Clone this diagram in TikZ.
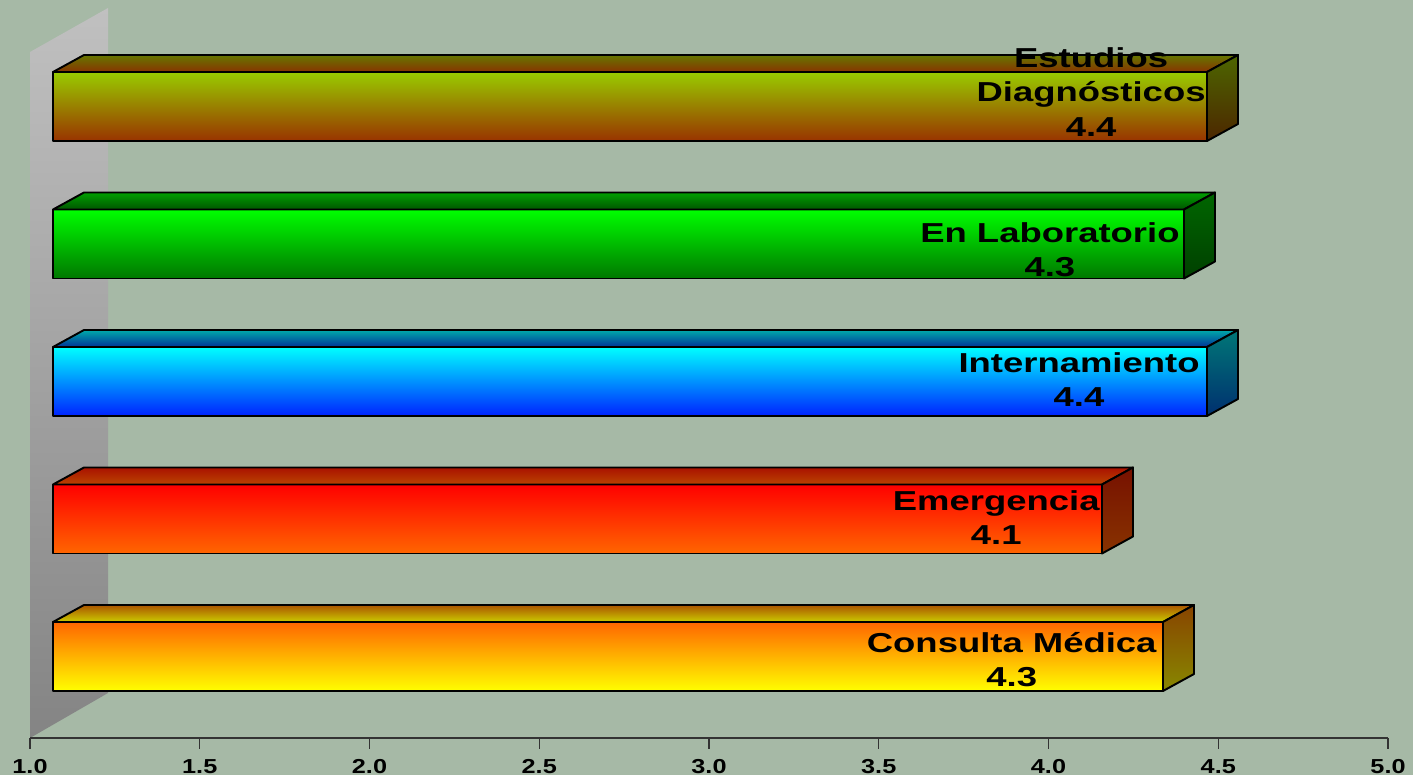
\documentclass[tikz,border=0pt]{standalone}
\usepackage{fontspec}
\setmainfont{Liberation Sans}
\usepackage{xcolor}
\usepackage{tikz}
\usetikzlibrary{calc}
\definecolor{chartbg}{RGB}{166,185,166}
\definecolor{wallTop}{RGB}{192,192,192}
\definecolor{wallBot}{RGB}{132,132,132}
% Estudios Diagnosticos
\definecolor{estFrontA}{HTML}{99CC00}
\definecolor{estFrontB}{HTML}{993300}
\definecolor{estTopA}{HTML}{667700}
\definecolor{estTopB}{HTML}{883300}
\definecolor{estSideA}{HTML}{4D6600}
\definecolor{estSideB}{HTML}{4D2600}
% En Laboratorio
\definecolor{labFrontA}{HTML}{00FF00}
\definecolor{labFrontB}{HTML}{007700}
\definecolor{labTopA}{HTML}{00A000}
\definecolor{labTopB}{HTML}{005500}
\definecolor{labSideA}{HTML}{006600}
\definecolor{labSideB}{HTML}{004000}
% Internamiento
\definecolor{intFrontA}{HTML}{00FFFF}
\definecolor{intFrontB}{HTML}{0022FF}
\definecolor{intTopA}{HTML}{00AAAA}
\definecolor{intTopB}{HTML}{003399}
\definecolor{intSideA}{HTML}{007777}
\definecolor{intSideB}{HTML}{002F6F}
% Emergencia
\definecolor{emeFrontA}{HTML}{FF0000}
\definecolor{emeFrontB}{HTML}{FF6600}
\definecolor{emeTopA}{HTML}{AA1100}
\definecolor{emeTopB}{HTML}{BB4400}
\definecolor{emeSideA}{HTML}{771100}
\definecolor{emeSideB}{HTML}{883300}
% Consulta Medica
\definecolor{conFrontA}{HTML}{FF6600}
\definecolor{conFrontB}{HTML}{FFFF00}
\definecolor{conTopA}{HTML}{AA5500}
\definecolor{conTopB}{HTML}{CCCC00}
\definecolor{conSideA}{HTML}{884400}
\definecolor{conSideB}{HTML}{888800}

\begin{document}
\begin{tikzpicture}[line join=round,x=0.02cm,y=0.02cm,
  barline/.style={line width=1.1pt,draw=black},
  axisline/.style={line width=0.6pt,draw=black!80},
  barlabel/.style={anchor=east,inner sep=0pt,align=center,xscale=1.33,
    font=\fontsize{15.6}{19.4}\selectfont\bfseries},
  ticklabel/.style={inner sep=0pt,xscale=1.25,font=\fontsize{11.5}{13}\selectfont\bfseries}]
\fill [chartbg] (0,0) rectangle (1413,775);
\useasboundingbox (0,0) rectangle (1413,775);
% back wall
\shade [top color=wallTop,bottom color=wallBot] (30,723) -- (108,767) -- (108,82) -- (30,37) -- cycle;
% axis
\draw [axisline] (30,37) -- (1388,37);
\draw [axisline] (30,37) -- (30,26);
\draw [axisline] (199.75,37) -- (199.75,26);
\draw [axisline] (369.5,37) -- (369.5,26);
\draw [axisline] (539.25,37) -- (539.25,26);
\draw [axisline] (709,37) -- (709,26);
\draw [axisline] (878.75,37) -- (878.75,26);
\draw [axisline] (1048.5,37) -- (1048.5,26);
\draw [axisline] (1218.25,37) -- (1218.25,26);
\draw [axisline] (1388,37) -- (1388,26);
\draw (30,8.5) node[ticklabel] (t10) {1.0};
\draw (199.75,8.5) node[ticklabel] (t15) {1.5};
\draw (369.5,8.5) node[ticklabel] (t20) {2.0};
\draw (539.25,8.5) node[ticklabel] (t25) {2.5};
\draw (709,8.5) node[ticklabel] (t30) {3.0};
\draw (878.75,8.5) node[ticklabel] (t35) {3.5};
\draw (1048.5,8.5) node[ticklabel] (t40) {4.0};
\draw (1218.25,8.5) node[ticklabel] (t45) {4.5};
\draw (1388,8.5) node[ticklabel] (t50) {5.0};
% Estudios Diagnosticos
\draw [barline,top color=estFrontA,bottom color=estFrontB] (53,634) rectangle (1207,703);
\draw [barline,top color=estTopA,bottom color=estTopB] (53,703) -- (84,720) -- (1238,720) -- (1207,703) -- cycle;
\draw [barline,top color=estSideA,bottom color=estSideB] (1207,703) -- (1238,720) -- (1238,651) -- (1207,634) -- cycle;
\draw (1206,683) node[barlabel] (estudios) {Estudios\\Diagnósticos\\4.4};
% En Laboratorio
\draw [barline,top color=labFrontA,bottom color=labFrontB] (53,496.5) rectangle (1184,565.5);
\draw [barline,top color=labTopA,bottom color=labTopB] (53,565.5) -- (84,582.5) -- (1215,582.5) -- (1184,565.5) -- cycle;
\draw [barline,top color=labSideA,bottom color=labSideB] (1184,565.5) -- (1215,582.5) -- (1215,513.5) -- (1184,496.5) -- cycle;
\draw (1180,525) node[barlabel] (laboratorio) {En Laboratorio\\4.3};
% Internamiento
\draw [barline,top color=intFrontA,bottom color=intFrontB] (53,359) rectangle (1207,428);
\draw [barline,top color=intTopA,bottom color=intTopB] (53,428) -- (84,445) -- (1238,445) -- (1207,428) -- cycle;
\draw [barline,top color=intSideA,bottom color=intSideB] (1207,428) -- (1238,445) -- (1238,376) -- (1207,359) -- cycle;
\draw (1200,395) node[barlabel] (internamiento) {Internamiento\\4.4};
% Emergencia
\draw [barline,top color=emeFrontA,bottom color=emeFrontB] (53,221.5) rectangle (1102,290.5);
\draw [barline,top color=emeTopA,bottom color=emeTopB] (53,290.5) -- (84,307.5) -- (1133,307.5) -- (1102,290.5) -- cycle;
\draw [barline,top color=emeSideA,bottom color=emeSideB] (1102,290.5) -- (1133,307.5) -- (1133,238.5) -- (1102,221.5) -- cycle;
\draw (1100,257) node[barlabel] (emergencia) {Emergencia\\4.1};
% Consulta Medica
\draw [barline,top color=conFrontA,bottom color=conFrontB] (53,84) rectangle (1163,153);
\draw [barline,top color=conTopA,bottom color=conTopB] (53,153) -- (84,170) -- (1194,170) -- (1163,153) -- cycle;
\draw [barline,top color=conSideA,bottom color=conSideB] (1163,153) -- (1194,170) -- (1194,101) -- (1163,84) -- cycle;
\draw (1157,115) node[barlabel] (consulta) {Consulta Médica\\4.3};
\end{tikzpicture}
\end{document}
